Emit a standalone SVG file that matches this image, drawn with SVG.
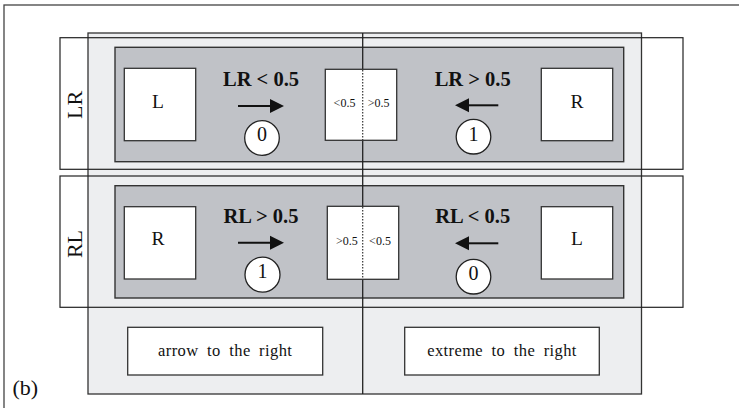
<svg xmlns="http://www.w3.org/2000/svg" width="739" height="408" viewBox="0 0 739 408">
  <style>
    .frame { fill: none; stroke: #444; stroke-width: 1.3; }
    .panel { fill: #EDEEF0; stroke: #333; stroke-width: 1.3; }
    .row { fill: none; stroke: #222; stroke-width: 1.2; }
    .inner { fill: #C0C2C7; stroke: #333; stroke-width: 1.4; }
    .box { fill: #fff; stroke: #333; stroke-width: 1.3; }
    .ball { fill: #fff; stroke: #222; stroke-width: 1.3; }
    .split { stroke: #333; stroke-width: 1.2; stroke-dasharray: 1.4 1.6; }
    .mid { stroke: #222; stroke-width: 1.3; }
    .shaft { stroke: #111; stroke-width: 2; }
    .head { fill: #111; }
    text { font-family: "Liberation Serif", "Times New Roman", serif; fill: #111; }
    .big { font-size: 19.5px; text-anchor: middle; }
    .cond { font-size: 20.5px; font-weight: bold; text-anchor: middle; }
    .num { font-size: 20px; text-anchor: middle; }
    .tiny { font-size: 12px; text-anchor: middle; }
    .side { font-size: 22px; text-anchor: middle; }
    .note { font-size: 16.5px; text-anchor: middle; letter-spacing: 0.4px; word-spacing: 4px; }
  </style>

  <!-- outer frame (runs off the right and bottom edges) -->
  <rect class="frame" x="4" y="5" width="800" height="500"/>

  <!-- shared light panel behind both rows -->
  <rect id="panel" class="panel" x="88" y="33" width="553.5" height="361"/>

  <!-- row outlines -->
  <g id="row-LR">
    <rect class="row" x="60" y="37.7" width="623" height="131.6"/>
    <text class="side" transform="translate(81.7 105) rotate(-90)" x="0" y="0">LR</text>
  </g>
  <g id="row-RL">
    <rect class="row" x="60" y="176" width="623" height="131.3"/>
    <text class="side" transform="translate(81.7 244) rotate(-90)" x="0" y="0">RL</text>
  </g>

  <!-- dark inner bands -->
  <rect id="band-LR" class="inner" x="115" y="47.3" width="508.7" height="114.4"/>
  <rect id="band-RL" class="inner" x="115" y="185.7" width="508.7" height="112.3"/>

  <!-- centre divider -->
  <line class="mid" x1="362.7" y1="33" x2="362.7" y2="394"/>

  <!-- LR row nodes -->
  <g id="LR-left">
    <rect class="box" x="124.3" y="68.3" width="71.4" height="72.4"/>
    <text class="big" x="158" y="108.3">L</text>
  </g>
  <g id="LR-mid">
    <rect class="box" x="325.3" y="69.3" width="71.4" height="71"/>
    <line class="split" x1="362.7" y1="70" x2="362.7" y2="140"/>
    <text class="tiny" x="344.5" y="106.8">&lt;0.5</text>
    <text class="tiny" x="378.7" y="106.8">&gt;0.5</text>
  </g>
  <g id="LR-right">
    <rect class="box" x="541.3" y="68.3" width="71.4" height="72.4"/>
    <text class="big" x="577" y="108.3">R</text>
  </g>
  <g id="LR-cond0">
    <text class="cond" x="261" y="86">LR &lt; 0.5</text>
    <circle class="ball" cx="262" cy="138" r="17.3"/>
    <text class="num" x="262" y="140.5">0</text>
  </g>
  <g id="LR-cond1">
    <text class="cond" x="472.7" y="86">LR &gt; 0.5</text>
    <circle class="ball" cx="473.5" cy="136.7" r="17.3"/>
    <text class="num" x="473.5" y="140.5">1</text>
  </g>

  <!-- RL row nodes -->
  <g id="RL-left">
    <rect class="box" x="124.3" y="206.7" width="71.4" height="72.3"/>
    <text class="big" x="158" y="245">R</text>
  </g>
  <g id="RL-mid">
    <rect class="box" x="327.3" y="206.3" width="71.4" height="73"/>
    <line class="split" x1="362.7" y1="207" x2="362.7" y2="279"/>
    <text class="tiny" x="346.8" y="245.3">&gt;0.5</text>
    <text class="tiny" x="380" y="245.3">&lt;0.5</text>
  </g>
  <g id="RL-right">
    <rect class="box" x="541.3" y="206.7" width="71.4" height="72.3"/>
    <text class="big" x="577" y="245">L</text>
  </g>
  <g id="RL-cond1">
    <text class="cond" x="261" y="222.7">RL &gt; 0.5</text>
    <circle class="ball" cx="262.5" cy="274.7" r="17.5"/>
    <text class="num" x="262.5" y="277.8">1</text>
  </g>
  <g id="RL-cond0">
    <text class="cond" x="472.7" y="222.7">RL &lt; 0.5</text>
    <circle class="ball" cx="473.5" cy="276.7" r="17.3"/>
    <text class="num" x="473.5" y="280.3">0</text>
  </g>

  <!-- direction arrows -->
  <g id="connectors">
    <line class="shaft" x1="238" y1="106" x2="271" y2="106"/>
    <polygon class="head" points="270,99 284,106 270,113"/>
    <line class="shaft" x1="498.3" y1="105.3" x2="468" y2="105.3"/>
    <polygon class="head" points="469,98.3 455,105.3 469,112.3"/>
    <line class="shaft" x1="238" y1="242.7" x2="271" y2="242.7"/>
    <polygon class="head" points="270,235.7 284,242.7 270,249.7"/>
    <line class="shaft" x1="498.3" y1="243.3" x2="468" y2="243.3"/>
    <polygon class="head" points="469,236.3 455,243.3 469,250.3"/>
  </g>

  <!-- captions -->
  <g id="caption-left">
    <rect class="box" x="127.7" y="327.3" width="195" height="47.7"/>
    <text class="note" x="225.2" y="356.3">arrow to the right</text>
  </g>
  <g id="caption-right">
    <rect class="box" x="404.7" y="327.3" width="194.6" height="47.7"/>
    <text class="note" x="502" y="356.3">extreme to the right</text>
  </g>

  <text id="tag" x="12.5" y="394.5" style="font-size: 22px;">(b)</text>
</svg>
